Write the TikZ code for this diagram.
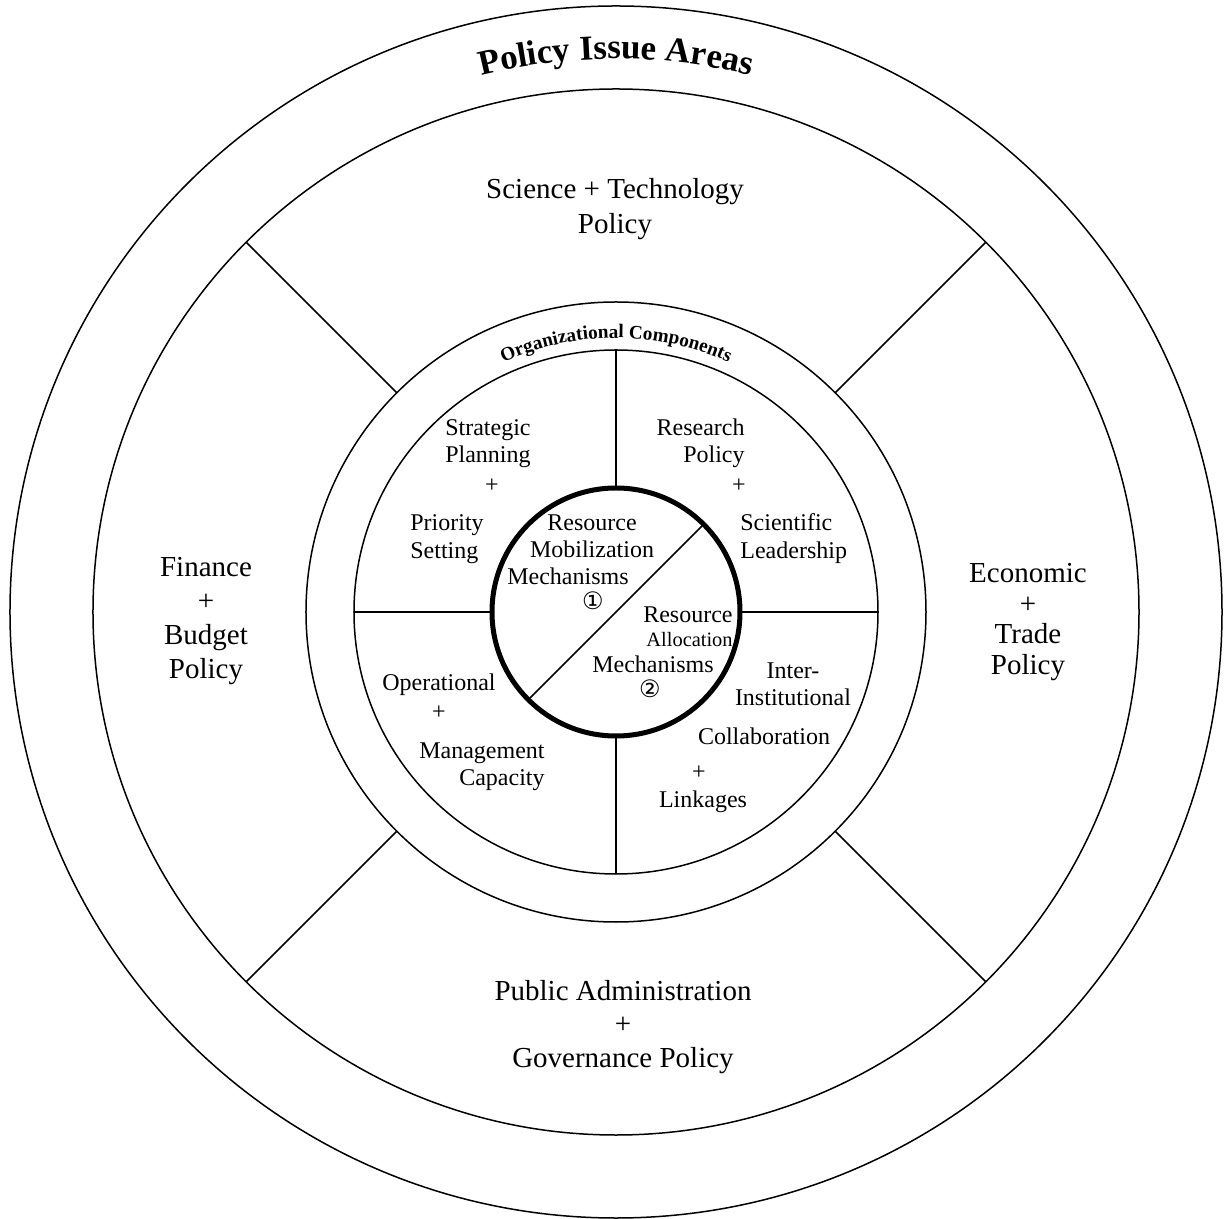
\documentclass[tikz,border=0pt]{standalone}
\usepackage{fontspec}
\setmainfont{Liberation Serif}
\newfontfamily\circfont{DejaVu Sans}
\usetikzlibrary{decorations.text}
\begin{document}
\begin{tikzpicture}[x=1pt, y=1pt,
  ring/.style={circle, draw, line width=0.75pt, inner sep=0pt, outer sep=0pt},
  divider/.style={line width=0.75pt},
  big/.style={font=\fontsize{14.5}{17}\selectfont, align=center, inner sep=0pt},
  small/.style={font=\fontsize{12}{13.5}\selectfont, inner sep=0pt, text height=0.68em, text depth=0.2em},
  tiny/.style={font=\fontsize{10.2}{12}\selectfont, inner sep=0pt, text height=0.68em, text depth=0.2em},
  num/.style={font=\circfont\fontsize{12}{13}\selectfont, inner sep=0pt},
]
\useasboundingbox (-308,-303.5) rectangle (304.5,306);

% rings
\node[ring, minimum size=606pt] (outer) at (0,0) {};
\node[ring, minimum size=523pt] (policy) at (0,0) {};
\node[ring, minimum size=310pt] (orgout) at (0,0) {};
\node[ring, minimum size=262pt] (orgin) at (0,0) {};
\node[ring, line width=2.5pt, minimum size=124pt] (core) at (0,0) {};

% dividers between policy areas
\foreach \a in {45,135,225,315} \draw[divider] (policy.\a) -- (orgout.\a);
% dividers between components
\foreach \a in {0,90,180,270} \draw[divider] (orgin.\a) -- (core.\a);
% core split
\draw[divider] (core.45) -- (core.225);

% curved titles
\path[decorate, decoration={text along path, text align=center,
  text={|\bfseries\fontsize{17.5}{19}\selectfont|Policy Issue Areas}}]
  (140:276.5) arc[start angle=140, end angle=40, radius=276.5];
\path[decorate, decoration={text along path, text align=center,
  text={|\bfseries\fontsize{9.6}{11}\selectfont|Organizational Components}}]
  (150:137) arc[start angle=150, end angle=30, radius=137];

% policy areas
\node[big, font=\fontsize{14.5}{17.5}\selectfont] (sci) at (-0.5,201.25) {Science + Technology\\Policy};
\node[big] (fin) at (-205,-4.75) {Finance\\+\\Budget\\Policy};
\node[big, font=\fontsize{14.5}{15.4}\selectfont] (eco) at (206,-5) {Economic\\+\\Trade\\Policy};
\node[big, font=\fontsize{14.5}{16.75}\selectfont] (pub) at (3.5,-207.5) {Public Administration\\+\\Governance Policy};

% organizational components
\node[small, anchor=east] (strat1) at (-42.5,90.8) {Strategic};
\node[small, anchor=east] (strat2) at (-42.5,77.3) {Planning};
\node[small] (plus1) at (-62,62) {+};
\node[small, anchor=west] (prio1) at (-103,43.3) {Priority};
\node[small, anchor=west] (prio2) at (-103,29.3) {Setting};

\node[small, anchor=east] (res1) at (64.5,90.8) {Research};
\node[small, anchor=east] (res2) at (64.5,77.3) {Policy};
\node[small] (plus2) at (61.5,62) {+};
\node[small, anchor=west] (lead1) at (62,43.3) {Scientific};
\node[small, anchor=west] (lead2) at (62,29.3) {Leadership};

\node[small] (op1) at (-88.5,-36.7) {Operational};
\node[small] (op2) at (-88.5,-51.5) {+};
\node[small, anchor=east] (op3) at (-35.5,-70.7) {Management};
\node[small, anchor=east] (op4) at (-35.5,-84.2) {Capacity};

\node[small] (col1) at (88.5,-30.7) {Inter-};
\node[small] (col2) at (88.5,-44.2) {Institutional};
\node[small] (col3) at (74,-63.7) {Collaboration};
\node[small] (col4) at (41.5,-81.5) {+};
\node[small] (col5) at (43.5,-95.2) {Linkages};

% core
\node[small] (mob1) at (-12,43.3) {Resource};
\node[small] (mob2) at (-12,29.8) {Mobilization};
\node[small] (mob3) at (-24,16.3) {Mechanisms};
\node[num] (n1) at (-11.5,5.5) {①};

\node[small, anchor=east] (all1) at (58.5,-2.7) {Resource};
\node[tiny, anchor=east] (all2) at (58.5,-15) {Allocation};
\node[small] (all3) at (18.5,-27.7) {Mechanisms};
\node[num] (n2) at (17,-38.5) {②};
\end{tikzpicture}
\end{document}
